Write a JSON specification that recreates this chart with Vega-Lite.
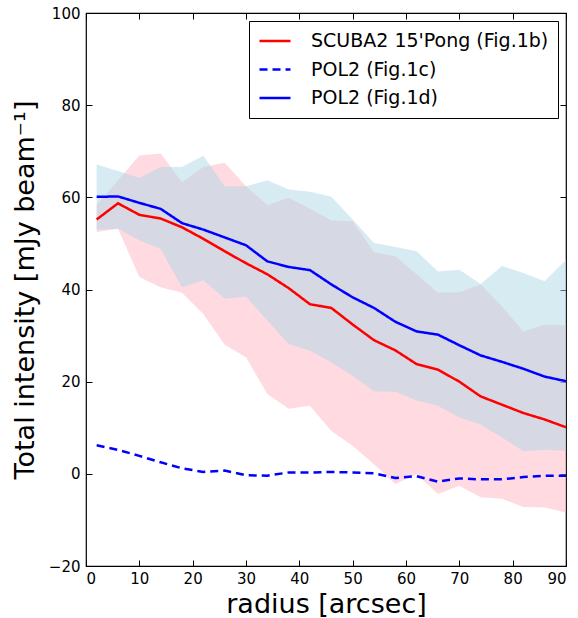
{
  "$schema": "https://vega.github.io/schema/vega-lite/v6.json",
  "autosize": {"type": "none"},
  "width": 480,
  "height": 553,
  "padding": {"left": 86, "top": 13, "right": 12, "bottom": 52},
  "config": {
    "font": "DejaVu Sans",
    "view": {"stroke": "black", "strokeWidth": 1.2},
    "axis": {
      "domain": false,
      "grid": false,
      "ticks": true,
      "tickColor": "black",
      "tickSize": -6,
      "labelColor": "black",
      "labelFontSize": 15,
      "labelFont": "DejaVu Sans",
      "titleFont": "DejaVu Sans",
      "titleFontWeight": "normal",
      "titleFontSize": 27,
      "titleColor": "black"
    },
    "legend": {
      "orient": "top-right",
      "offset": 8,
      "strokeColor": "black",
      "fillColor": "white",
      "padding": 9,
      "cornerRadius": 0,
      "labelFontSize": 19,
      "labelFont": "DejaVu Sans",
      "labelColor": "black",
      "labelLimit": 400,
      "symbolType": "stroke",
      "symbolStrokeWidth": 2.5,
      "symbolSize": 961,
      "clipHeight": 22,
      "rowPadding": 6.5,
      "labelOffset": 19
    }
  },
  "data": {"values": [
    {"r": 2, "s": "SCUBA2 15'Pong (Fig.1b)", "v": 55.2, "lo": 52.5, "hi": 58.3},
    {"r": 6, "s": "SCUBA2 15'Pong (Fig.1b)", "v": 58.7, "lo": 53.2, "hi": 63.7},
    {"r": 10, "s": "SCUBA2 15'Pong (Fig.1b)", "v": 56.2, "lo": 42.7, "hi": 69.1},
    {"r": 14, "s": "SCUBA2 15'Pong (Fig.1b)", "v": 55.4, "lo": 40.5, "hi": 69.5},
    {"r": 18, "s": "SCUBA2 15'Pong (Fig.1b)", "v": 53.5, "lo": 39.3, "hi": 63.3},
    {"r": 22, "s": "SCUBA2 15'Pong (Fig.1b)", "v": 51.0, "lo": 34.7, "hi": 66.6},
    {"r": 26, "s": "SCUBA2 15'Pong (Fig.1b)", "v": 48.3, "lo": 28.0, "hi": 67.5},
    {"r": 30, "s": "SCUBA2 15'Pong (Fig.1b)", "v": 45.7, "lo": 25.3, "hi": 62.4},
    {"r": 34, "s": "SCUBA2 15'Pong (Fig.1b)", "v": 43.3, "lo": 17.3, "hi": 58.3},
    {"r": 38, "s": "SCUBA2 15'Pong (Fig.1b)", "v": 40.3, "lo": 14.1, "hi": 59.9},
    {"r": 42, "s": "SCUBA2 15'Pong (Fig.1b)", "v": 36.8, "lo": 14.8, "hi": 57.5},
    {"r": 46, "s": "SCUBA2 15'Pong (Fig.1b)", "v": 36.0, "lo": 9.3, "hi": 55.0},
    {"r": 50, "s": "SCUBA2 15'Pong (Fig.1b)", "v": 32.4, "lo": 6.1, "hi": 54.8},
    {"r": 54, "s": "SCUBA2 15'Pong (Fig.1b)", "v": 29.0, "lo": 2.1, "hi": 48.1},
    {"r": 58, "s": "SCUBA2 15'Pong (Fig.1b)", "v": 26.8, "lo": -2.2, "hi": 47.2},
    {"r": 62, "s": "SCUBA2 15'Pong (Fig.1b)", "v": 23.8, "lo": -0.1, "hi": 43.3},
    {"r": 66, "s": "SCUBA2 15'Pong (Fig.1b)", "v": 22.6, "lo": -4.4, "hi": 39.3},
    {"r": 70, "s": "SCUBA2 15'Pong (Fig.1b)", "v": 20.0, "lo": -2.6, "hi": 39.4},
    {"r": 74, "s": "SCUBA2 15'Pong (Fig.1b)", "v": 16.8, "lo": -5.1, "hi": 41.1},
    {"r": 78, "s": "SCUBA2 15'Pong (Fig.1b)", "v": 15.0, "lo": -5.4, "hi": 36.3},
    {"r": 82, "s": "SCUBA2 15'Pong (Fig.1b)", "v": 13.2, "lo": -7.2, "hi": 30.9},
    {"r": 86, "s": "SCUBA2 15'Pong (Fig.1b)", "v": 11.8, "lo": -7.3, "hi": 32.4},
    {"r": 90, "s": "SCUBA2 15'Pong (Fig.1b)", "v": 10.1, "lo": -8.4, "hi": 32.2},
    {"r": 2, "s": "POL2 (Fig.1c)", "v": 6.2},
    {"r": 6, "s": "POL2 (Fig.1c)", "v": 5.2},
    {"r": 10, "s": "POL2 (Fig.1c)", "v": 3.9},
    {"r": 14, "s": "POL2 (Fig.1c)", "v": 2.5},
    {"r": 18, "s": "POL2 (Fig.1c)", "v": 1.2},
    {"r": 22, "s": "POL2 (Fig.1c)", "v": 0.4},
    {"r": 26, "s": "POL2 (Fig.1c)", "v": 0.7},
    {"r": 30, "s": "POL2 (Fig.1c)", "v": -0.3},
    {"r": 34, "s": "POL2 (Fig.1c)", "v": -0.4},
    {"r": 38, "s": "POL2 (Fig.1c)", "v": 0.3},
    {"r": 42, "s": "POL2 (Fig.1c)", "v": 0.3},
    {"r": 46, "s": "POL2 (Fig.1c)", "v": 0.4},
    {"r": 50, "s": "POL2 (Fig.1c)", "v": 0.3},
    {"r": 54, "s": "POL2 (Fig.1c)", "v": 0.1},
    {"r": 58, "s": "POL2 (Fig.1c)", "v": -0.9},
    {"r": 62, "s": "POL2 (Fig.1c)", "v": -0.5},
    {"r": 66, "s": "POL2 (Fig.1c)", "v": -1.7},
    {"r": 70, "s": "POL2 (Fig.1c)", "v": -1.0},
    {"r": 74, "s": "POL2 (Fig.1c)", "v": -1.2},
    {"r": 78, "s": "POL2 (Fig.1c)", "v": -1.2},
    {"r": 82, "s": "POL2 (Fig.1c)", "v": -0.7},
    {"r": 86, "s": "POL2 (Fig.1c)", "v": -0.4},
    {"r": 90, "s": "POL2 (Fig.1c)", "v": -0.4},
    {"r": 2, "s": "POL2 (Fig.1d)", "v": 60.1, "lo": 53.0, "hi": 67.1},
    {"r": 6, "s": "POL2 (Fig.1d)", "v": 60.2, "lo": 53.2, "hi": 65.7},
    {"r": 10, "s": "POL2 (Fig.1d)", "v": 58.8, "lo": 50.7, "hi": 64.2},
    {"r": 14, "s": "POL2 (Fig.1d)", "v": 57.5, "lo": 48.8, "hi": 66.6},
    {"r": 18, "s": "POL2 (Fig.1d)", "v": 54.4, "lo": 40.5, "hi": 66.6},
    {"r": 22, "s": "POL2 (Fig.1d)", "v": 53.0, "lo": 42.0, "hi": 69.0},
    {"r": 26, "s": "POL2 (Fig.1d)", "v": 51.3, "lo": 38.0, "hi": 62.4},
    {"r": 30, "s": "POL2 (Fig.1d)", "v": 49.6, "lo": 38.5, "hi": 62.4},
    {"r": 34, "s": "POL2 (Fig.1d)", "v": 46.1, "lo": 33.3, "hi": 63.7},
    {"r": 38, "s": "POL2 (Fig.1d)", "v": 44.9, "lo": 28.2, "hi": 61.7},
    {"r": 42, "s": "POL2 (Fig.1d)", "v": 44.2, "lo": 26.7, "hi": 61.2},
    {"r": 46, "s": "POL2 (Fig.1d)", "v": 41.1, "lo": 24.2, "hi": 60.1},
    {"r": 50, "s": "POL2 (Fig.1d)", "v": 38.3, "lo": 21.3, "hi": 55.2},
    {"r": 54, "s": "POL2 (Fig.1d)", "v": 36.0, "lo": 17.9, "hi": 50.1},
    {"r": 58, "s": "POL2 (Fig.1d)", "v": 33.0, "lo": 17.8, "hi": 49.2},
    {"r": 62, "s": "POL2 (Fig.1d)", "v": 30.9, "lo": 15.9, "hi": 48.3},
    {"r": 66, "s": "POL2 (Fig.1d)", "v": 30.2, "lo": 14.8, "hi": 43.9},
    {"r": 70, "s": "POL2 (Fig.1d)", "v": 27.9, "lo": 12.2, "hi": 44.3},
    {"r": 74, "s": "POL2 (Fig.1d)", "v": 25.7, "lo": 10.7, "hi": 41.2},
    {"r": 78, "s": "POL2 (Fig.1d)", "v": 24.3, "lo": 7.9, "hi": 45.1},
    {"r": 82, "s": "POL2 (Fig.1d)", "v": 22.8, "lo": 4.9, "hi": 43.6},
    {"r": 86, "s": "POL2 (Fig.1d)", "v": 21.1, "lo": 5.2, "hi": 41.8},
    {"r": 90, "s": "POL2 (Fig.1d)", "v": 20.1, "lo": 5.0, "hi": 46.4}
  ]},
  "resolve": {"axis": {"x": "independent", "y": "independent"}},
  "layer": [
    {
      "transform": [{"filter": "datum.s === \"SCUBA2 15'Pong (Fig.1b)\""}],
      "mark": {"type": "area", "color": "#ffb6c1", "opacity": 0.5},
      "encoding": {
        "x": {"field": "r", "type": "quantitative", "scale": {"domain": [0, 90], "nice": false, "zero": false},
              "axis": {"orient": "bottom", "title": "radius [arcsec]", "values": [0,10,20,30,40,50,60,70,80,90], "labelPadding": 11, "titlePadding": 5}},
        "y": {"field": "lo", "type": "quantitative", "scale": {"domain": [-20, 100], "nice": false, "zero": false},
              "axis": {"orient": "left", "title": "Total intensity [mJy beam⁻¹]", "values": [-20,0,20,40,60,80,100], "labelPadding": 12, "titlePadding": 9}},
        "y2": {"field": "hi"}
      }
    },
    {
      "transform": [{"filter": "datum.s === 'POL2 (Fig.1d)'"}],
      "mark": {"type": "area", "color": "#add8e6", "opacity": 0.5},
      "encoding": {
        "x": {"field": "r", "type": "quantitative", "axis": null},
        "y": {"field": "lo", "type": "quantitative", "axis": null},
        "y2": {"field": "hi"}
      }
    },
    {
      "mark": {"type": "line", "strokeWidth": 2.5},
      "encoding": {
        "x": {"field": "r", "type": "quantitative", "axis": {"orient": "top", "labels": false, "title": null, "values": [0,10,20,30,40,50,60,70,80,90]}},
        "y": {"field": "v", "type": "quantitative", "axis": {"orient": "right", "labels": false, "title": null, "values": [-20,0,20,40,60,80,100]}},
        "color": {"field": "s", "type": "nominal", "title": null,
                  "scale": {"domain": ["SCUBA2 15'Pong (Fig.1b)", "POL2 (Fig.1c)", "POL2 (Fig.1d)"], "range": ["#ff0000", "#0000ff", "#0000ff"]}},
        "strokeDash": {"field": "s", "type": "nominal", "title": null,
                  "scale": {"domain": ["SCUBA2 15'Pong (Fig.1b)", "POL2 (Fig.1c)", "POL2 (Fig.1d)"], "range": [[1, 0], [8, 5], [1, 0]]}}
      }
    }
  ]
}
